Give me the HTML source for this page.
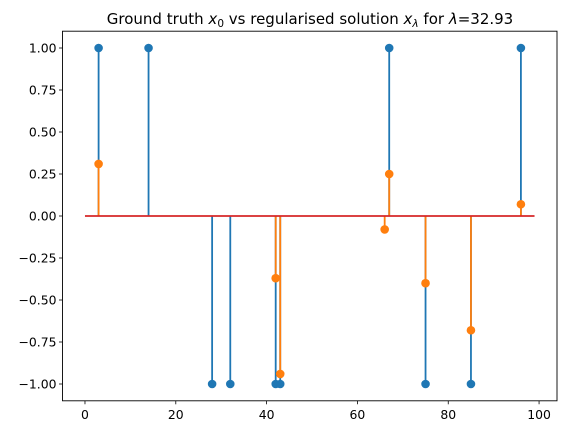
<!DOCTYPE html>
<html><head><meta charset="utf-8"><style>
body{margin:0;background:#fff;}
svg{display:block;font-family:"DejaVu Sans","Liberation Sans",sans-serif;}
</style></head><body>
<svg id="chart" width="571" height="435">
<text x="310" y="24" font-size="15" text-anchor="middle">Ground truth <tspan font-style="italic">x</tspan><tspan font-size="10.5" dy="3">0</tspan><tspan dy="-3"> vs regularised solution </tspan><tspan font-style="italic">x</tspan><tspan font-size="10.5" dy="3" font-style="italic">λ</tspan><tspan dy="-3"> for </tspan><tspan font-style="italic">λ</tspan>=32.93</text>
<g id="plot"></g>
</svg>
<script>
const truthIdx=[3,14,28,32,42,43,67,75,85,96];
const truthVal=[1,1,-1,-1,-1,-1,1,-1,-1,1];
const solIdx=[3,42,43,66,67,75,85,96];
const solVal=[0.31,-0.37,-0.94,-0.08,0.25,-0.40,-0.68,0.07];
const xTicks=[0,20,40,60,80,100];
const yTicks=[-1.00,-0.75,-0.50,-0.25,0.00,0.25,0.50,0.75,1.00];
const baseStart=0, baseEnd=99;
const L=62.5,R=557,T=31.2,B=400.8,xmin=-4.95,xmax=103.95,ymin=-1.1,ymax=1.1;
const sx=v=>L+(v-xmin)/(xmax-xmin)*(R-L);
const sy=v=>B-(v-ymin)/(ymax-ymin)*(B-T);
const g=document.getElementById('plot');
const NS='http://www.w3.org/2000/svg';
function mk(t,a){const e=document.createElementNS(NS,t);for(const k in a)e.setAttribute(k,a[k]);g.appendChild(e);return e;}
yTicks.forEach(v=>{
 const l=mk('line',{x1:L-3.5,x2:L,y1:sy(v),y2:sy(v),stroke:'#000','stroke-width':0.8});
 
 
 const t=mk('text',{x:L-6,y:sy(v)+4.5,'font-size':12.4,'text-anchor':'end'});
 t.textContent=(v<0?'\u2212':'')+Math.abs(v).toFixed(2);
 
 
});
xTicks.forEach(v=>{
 const l=mk('line',{x1:sx(v),x2:sx(v),y1:B,y2:B+3.5,stroke:'#000','stroke-width':0.8});
 
 
 const t=mk('text',{x:sx(v),y:B+18,'font-size':12.4,'text-anchor':'middle'});
 t.textContent=v;
 
 
});
function series(idx,val,color,name){
 idx.forEach((x,i)=>{
  const l=mk('line',{x1:sx(x),x2:sx(x),y1:sy(0),y2:sy(val[i]),stroke:color,'stroke-width':1.8});
  
  
 });
 idx.forEach((x,i)=>{
  const c=mk('circle',{cx:sx(x),cy:sy(val[i]),r:4.3,fill:color});
  
  
 });
}
series(truthIdx,truthVal,'#1f77b4','truth');
series(solIdx,solVal,'#ff7f0e','solution');
const bl=mk('line',{x1:sx(baseStart),x2:sx(baseEnd),y1:sy(0),y2:sy(0),stroke:'#d62728','stroke-width':1.8});


const fr=mk('rect',{x:L,y:T,width:R-L,height:B-T,fill:'none',stroke:'#000','stroke-width':0.9});


</script>
</body></html>
